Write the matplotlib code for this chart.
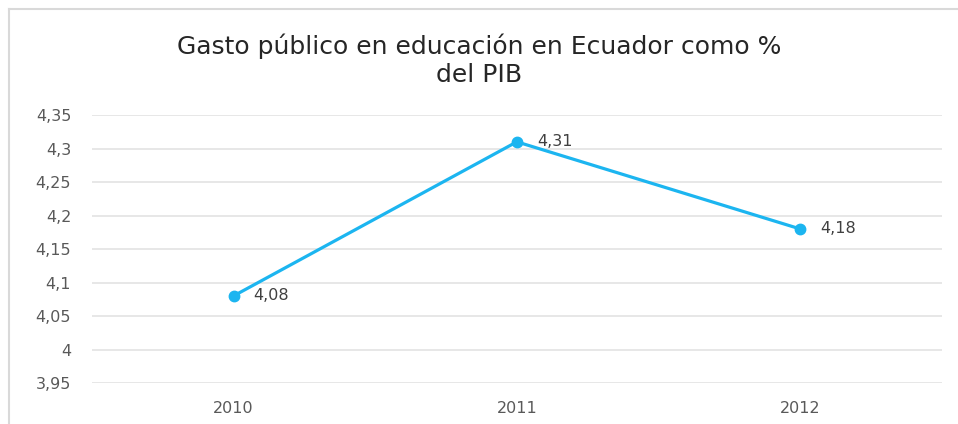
import matplotlib.pyplot as plt
from matplotlib.lines import Line2D
from matplotlib.ticker import FuncFormatter

years = ['2010', '2011', '2012']
gasto = [4.08, 4.31, 4.18]
etiquetas = ['4,08', '4,31', '4,18']

plt.rcParams['font.family'] = ['DejaVu Sans']

fig = plt.figure(figsize=(9.58, 4.24), dpi=100)
ax = fig.add_axes([0.096, 0.0967, 0.887, 0.632])

x = range(len(years))
ax.plot(x, gasto, color='#1cb5f0', linewidth=2.3, marker='o', markersize=7.5)
for i, (v, t) in enumerate(zip(gasto, etiquetas)):
    ax.annotate(t, (i, v), xytext=(14.5, 0), textcoords='offset points',
                va='center', ha='left', fontsize=11.5, color='#404040')

ax.set_xlim(-0.5, 2.5)
ax.set_ylim(3.95, 4.35)
ax.set_yticks([3.95 + 0.05 * k for k in range(9)])
ax.yaxis.set_major_formatter(FuncFormatter(lambda v, p: ('%g' % round(v, 2)).replace('.', ',')))
ax.set_xticks(list(x))
ax.set_xticklabels(years)
ax.tick_params(length=0, labelsize=11.5, labelcolor='#595959')
ax.tick_params(axis='y', pad=15)
ax.tick_params(axis='x', pad=13)
ax.grid(axis='y', color='#e3e3e3', linewidth=1.2)
ax.set_axisbelow(True)
for s in ax.spines.values():
    s.set_visible(False)

fig.text(0.5, 0.858, 'Gasto público en educación en Ecuador como %\ndel PIB',
         ha='center', va='center', fontsize=18, color='#262626', linespacing=1.2)

# chart border
fig.add_artist(Line2D([9 / 958, 1], [1 - 9 / 424] * 2, color='#d9d9d9', lw=1.5))
fig.add_artist(Line2D([9 / 958] * 2, [0, 1 - 9 / 424], color='#d9d9d9', lw=1.5))

fig.savefig('out.png', dpi=100)
